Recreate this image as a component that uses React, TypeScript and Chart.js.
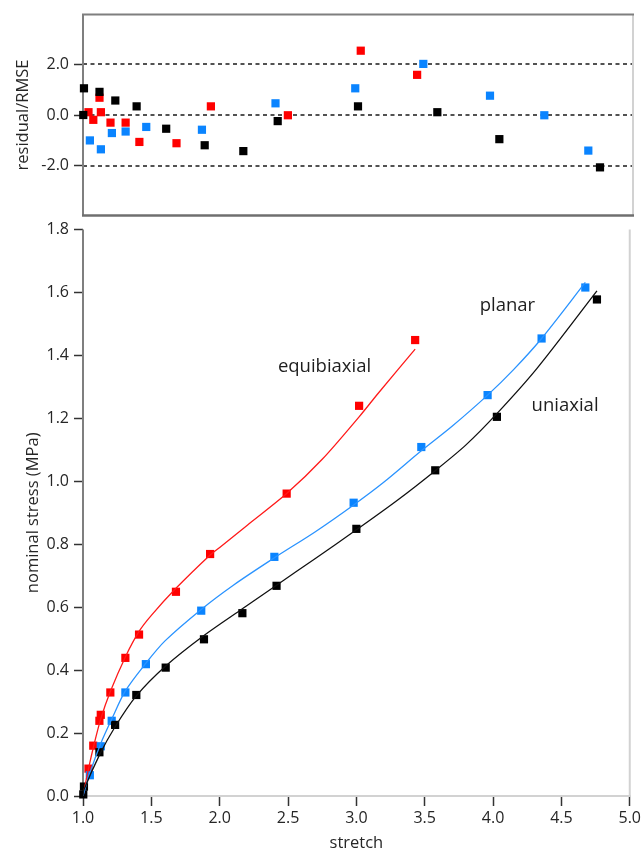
import React, { useEffect, useRef } from "react";
import { Chart, registerables } from "chart.js";

Chart.register(...registerables);

// ---- measured data: equibiaxial (red) ----
const equiStretch = [1.04, 1.075, 1.12, 1.13, 1.2, 1.31, 1.41, 1.68, 1.93, 2.49, 3.02, 3.43];
const equiStress = [0.087, 0.16, 0.239, 0.258, 0.329, 0.439, 0.513, 0.649, 0.769, 0.961, 1.24, 1.449];
const equiResidual = [0.11, -0.19, 0.68, 0.11, -0.3, -0.3, -1.06, -1.11, 0.34, -0.01, 2.53, 1.58];

// ---- measured data: planar (blue) ----
const planarStretch = [1.05, 1.13, 1.21, 1.31, 1.46, 1.865, 2.4, 2.98, 3.475, 3.96, 4.355, 4.675];
const planarStress = [0.066, 0.158, 0.239, 0.329, 0.419, 0.589, 0.76, 0.932, 1.109, 1.274, 1.454, 1.616];
const planarResidual = [-1.0, -1.35, -0.71, -0.65, -0.47, -0.58, 0.46, 1.05, 2.01, 0.76, -0.01, -1.4];

// ---- measured data: uniaxial (black) ----
const uniStretch = [1.002, 1.007, 1.12, 1.235, 1.39, 1.605, 1.885, 2.166, 2.416, 3.0, 3.577, 4.028, 4.76];
const uniStress = [0.005, 0.03, 0.139, 0.226, 0.321, 0.408, 0.498, 0.581, 0.668, 0.849, 1.035, 1.205, 1.578];
const uniResidual = [0.0, 1.05, 0.91, 0.57, 0.34, -0.54, -1.19, -1.42, -0.24, 0.34, 0.11, -0.95, -2.06];

// ---- model fit curves ----
const equiFitStretch = [1.0, 1.04, 1.08, 1.13, 1.2, 1.31, 1.41, 1.5, 1.68, 1.93, 2.0, 2.2, 2.49, 2.75, 3.02, 3.16, 3.43];
const equiFitStress = [0.0, 0.086, 0.162, 0.245, 0.332, 0.442, 0.523, 0.574, 0.66, 0.766, 0.79, 0.86, 0.961, 1.07, 1.205, 1.28, 1.42];

const planarFitStretch = [1.0, 1.05, 1.13, 1.21, 1.31, 1.46, 1.6, 1.865, 2.1, 2.4, 2.7, 2.98, 3.2, 3.475, 3.7, 3.96, 4.15, 4.355, 4.675];
const planarFitStress = [0.0, 0.073, 0.167, 0.244, 0.334, 0.422, 0.493, 0.593, 0.67, 0.757, 0.84, 0.925, 0.997, 1.097, 1.175, 1.274, 1.355, 1.454, 1.632];

const uniFitStretch = [1.0, 1.007, 1.12, 1.235, 1.39, 1.605, 1.885, 2.166, 2.416, 2.7, 3.0, 3.3, 3.577, 3.8, 4.028, 4.32, 4.76];
const uniFitStress = [0.0, 0.02, 0.13, 0.22, 0.318, 0.413, 0.51, 0.595, 0.67, 0.755, 0.846, 0.94, 1.034, 1.115, 1.215, 1.358, 1.605];

// ---- axes ----
const residualTicks = [-2, 0, 2];
const residualRange = [-3.95, 3.95];
const stressRange = [0, 1.8];
const stressStep = 0.2;
const stretchRange = [1, 5];
const stretchStep = 0.5;

// ---- curve labels ----
const curveLabels = [
  { text: "equibiaxial", x: 2.767, y: 1.364 },
  { text: "planar", x: 4.105, y: 1.558 },
  { text: "uniaxial", x: 4.527, y: 1.239 },
];

const RED = "#ff0000";
const BLUE = "#0a84ff";
const BLUE_LINE = "#2a93ff";
const BLACK = "#000000";
const FONT = "'Open Sans', 'Noto Sans', sans-serif";
const TEXT = "#262626";
const DARK_FRAME = "#7f7f7f";
const LIGHT_FRAME = "#d2d2d2";

const pts = (xs: number[], ys: number[]) => xs.map((x, i) => ({ x, y: ys[i] }));

const markerSet = (data: { x: number; y: number }[], color: string) => ({
  data,
  showLine: false,
  pointStyle: "rect" as const,
  pointRadius: 5.8,
  pointHoverRadius: 5.8,
  pointBackgroundColor: color,
  pointBorderColor: color,
  pointBorderWidth: 0,
  clip: false as const,
});

const curveSet = (data: { x: number; y: number }[], color: string) => ({
  data,
  showLine: true,
  borderColor: color,
  borderWidth: 1.3,
  pointRadius: 0,
  pointHoverRadius: 0,
  tension: 0.3,
  fill: false,
});

function strokeLine(ctx: CanvasRenderingContext2D, x1: number, y1: number, x2: number, y2: number) {
  ctx.beginPath();
  ctx.moveTo(x1, y1);
  ctx.lineTo(x2, y2);
  ctx.stroke();
}

// dashed reference lines and box frame of the residual panel
const residualFramePlugin = {
  id: "residualFrame",
  beforeDatasetsDraw(chart: Chart) {
    const { ctx, chartArea: a, scales } = chart;
    ctx.save();
    ctx.strokeStyle = "#1a1a1a";
    ctx.lineWidth = 1.6;
    ctx.setLineDash([4, 3.5]);
    for (const v of residualTicks) {
      const y = Math.round(scales.y.getPixelForValue(v));
      strokeLine(ctx, a.left, y, a.right, y);
    }
    ctx.setLineDash([]);
    ctx.lineWidth = 2;
    ctx.strokeStyle = LIGHT_FRAME;
    strokeLine(ctx, a.right, a.top, a.right, a.bottom);
    ctx.strokeStyle = DARK_FRAME;
    strokeLine(ctx, a.left - 1, a.top, a.right + 1, a.top);
    strokeLine(ctx, a.left, a.top, a.left, a.bottom);
    ctx.lineWidth = 2.5;
    ctx.strokeStyle = "#6f6f6f";
    strokeLine(ctx, a.left - 1, a.bottom, a.right + 1, a.bottom);
    ctx.restore();
  },
};

// frame of the stress panel and the curve names
const stressFramePlugin = {
  id: "stressFrame",
  beforeDatasetsDraw(chart: Chart) {
    const { ctx, chartArea: a } = chart;
    ctx.save();
    ctx.lineWidth = 2;
    ctx.strokeStyle = LIGHT_FRAME;
    strokeLine(ctx, a.left, a.bottom, a.right + 1, a.bottom);
    strokeLine(ctx, a.right, a.top, a.right, a.bottom);
    ctx.strokeStyle = DARK_FRAME;
    strokeLine(ctx, a.left, a.top, a.left, a.bottom + 1);
    ctx.restore();
  },
  afterDatasetsDraw(chart: Chart) {
    const { ctx, scales } = chart;
    ctx.save();
    ctx.fillStyle = "#1e1e1e";
    ctx.font = `18.5px ${FONT}`;
    ctx.textAlign = "center";
    ctx.textBaseline = "middle";
    for (const l of curveLabels) {
      ctx.fillText(l.text, scales.x.getPixelForValue(l.x), scales.y.getPixelForValue(l.y));
    }
    ctx.restore();
  },
};

const tickFont = { family: FONT, size: 16 };
const titleFont = { family: FONT, size: 16.5 };
const fmt = (v: number | string) => Number(v).toFixed(1);

export default function App() {
  const topRef = useRef<HTMLCanvasElement>(null);
  const bottomRef = useRef<HTMLCanvasElement>(null);

  useEffect(() => {
    if (!topRef.current || !bottomRef.current) return;

    const top = new Chart(topRef.current, {
      type: "scatter",
      data: {
        datasets: [
          markerSet(pts(uniStretch, uniResidual), BLACK),
          markerSet(pts(planarStretch, planarResidual), BLUE),
          markerSet(pts(equiStretch, equiResidual), RED),
        ],
      },
      options: {
        responsive: false,
        animation: false,
        events: [],
        layout: { padding: { top: 13, right: 11, bottom: 8, left: 0 } },
        plugins: { legend: { display: false }, tooltip: { enabled: false } },
        scales: {
          x: { type: "linear", min: stretchRange[0], max: stretchRange[1], display: false },
          y: {
            type: "linear",
            min: residualRange[0],
            max: residualRange[1],
            afterFit: (s: any) => {
              s.width = 83;
            },
            afterBuildTicks: (s: any) => {
              s.ticks = residualTicks.map((value) => ({ value }));
            },
            border: { display: false },
            grid: { drawOnChartArea: false, drawTicks: true, tickLength: 9, tickColor: "#333", tickWidth: 1.5 },
            ticks: { font: tickFont, color: TEXT, padding: 5, callback: fmt },
            title: {
              display: true,
              text: "residual/RMSE",
              font: titleFont,
              color: TEXT,
              padding: { top: 13, bottom: 0 },
            },
          },
        },
      },
      plugins: [residualFramePlugin],
    });

    const bottom = new Chart(bottomRef.current, {
      type: "scatter",
      data: {
        datasets: [
          curveSet(pts(uniFitStretch, uniFitStress), "#111111"),
          curveSet(pts(planarFitStretch, planarFitStress), BLUE_LINE),
          curveSet(pts(equiFitStretch, equiFitStress), "#ff1a1a"),
          markerSet(pts(uniStretch, uniStress), BLACK),
          markerSet(pts(planarStretch, planarStress), BLUE),
          markerSet(pts(equiStretch, equiStress), RED),
        ],
      },
      options: {
        responsive: false,
        animation: false,
        events: [],
        layout: { padding: { top: 7, right: 11, bottom: 0, left: 0 } },
        plugins: { legend: { display: false }, tooltip: { enabled: false } },
        scales: {
          x: {
            type: "linear",
            min: stretchRange[0],
            max: stretchRange[1],
            afterFit: (s: any) => {
              s.height = 57;
            },
            border: { display: false },
            grid: { drawOnChartArea: false, drawTicks: true, tickLength: 10, tickColor: "#333", tickWidth: 1.5 },
            ticks: { stepSize: stretchStep, font: tickFont, color: TEXT, padding: 3, maxRotation: 0, autoSkip: false, callback: fmt },
            title: {
              display: true,
              text: "stretch",
              font: titleFont,
              color: TEXT,
              padding: { top: 0, bottom: 0 },
            },
          },
          y: {
            type: "linear",
            min: stressRange[0],
            max: stressRange[1],
            afterFit: (s: any) => {
              s.width = 83;
            },
            border: { display: false },
            grid: { drawOnChartArea: false, drawTicks: true, tickLength: 9, tickColor: "#333", tickWidth: 1.5 },
            ticks: { stepSize: stressStep, font: tickFont, color: TEXT, padding: 5, callback: fmt },
            title: {
              display: true,
              text: "nominal stress (MPa)",
              font: titleFont,
              color: TEXT,
              padding: { top: 23, bottom: 0 },
            },
          },
        },
      },
      plugins: [stressFramePlugin],
    });

    return () => {
      top.destroy();
      bottom.destroy();
    };
  }, []);

  return (
    <div style={{ position: "absolute", left: 0, top: 0, width: 644, height: 853, background: "#ffffff" }}>
      <canvas ref={bottomRef} width={644} height={638} style={{ position: "absolute", left: 0, top: 215, display: "block" }} />
      <canvas ref={topRef} width={644} height={230} style={{ position: "absolute", left: 0, top: 0, display: "block" }} />
    </div>
  );
}
